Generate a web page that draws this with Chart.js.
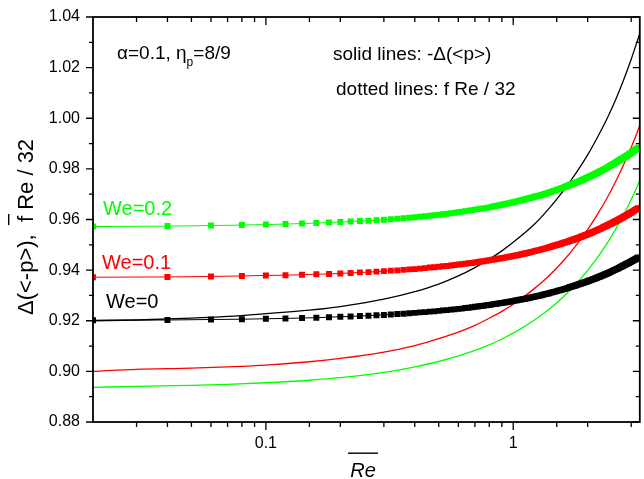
<!DOCTYPE html>
<html>
<head>
<meta charset="utf-8">
<script src="https://cdn.jsdelivr.net/npm/chart.js@4.4.1/dist/chart.umd.min.js"></script>
<style>
  html, body { margin: 0; padding: 0; background: #fff; }
  #wrap { width: 644px; height: 479px; position: relative; }
</style>
</head>
<body>
<div id="wrap"><canvas id="chart"></canvas></div>
<script>
// Re values of the marked (dotted) curves, step 0.02
var reDots = [
    0.02, 0.04, 0.06, 0.08, 0.10, 0.12, 0.14, 0.16, 0.18, 0.20,
    0.22, 0.24, 0.26, 0.28, 0.30, 0.32, 0.34, 0.36, 0.38, 0.40,
    0.42, 0.44, 0.46, 0.48, 0.50, 0.52, 0.54, 0.56, 0.58, 0.60,
    0.62, 0.64, 0.66, 0.68, 0.70, 0.72, 0.74, 0.76, 0.78, 0.80,
    0.82, 0.84, 0.86, 0.88, 0.90, 0.92, 0.94, 0.96, 0.98, 1.00,
    1.02, 1.04, 1.06, 1.08, 1.10, 1.12, 1.14, 1.16, 1.18, 1.20,
    1.22, 1.24, 1.26, 1.28, 1.30, 1.32, 1.34, 1.36, 1.38, 1.40,
    1.42, 1.44, 1.46, 1.48, 1.50, 1.52, 1.54, 1.56, 1.58, 1.60,
    1.62, 1.64, 1.66, 1.68, 1.70, 1.72, 1.74, 1.76, 1.78, 1.80,
    1.82, 1.84, 1.86, 1.88, 1.90, 1.92, 1.94, 1.96, 1.98, 2.00,
    2.02, 2.04, 2.06, 2.08, 2.10, 2.12, 2.14, 2.16, 2.18, 2.20,
    2.22, 2.24, 2.26, 2.28, 2.30, 2.32, 2.34, 2.36, 2.38, 2.40,
    2.42, 2.44, 2.46, 2.48, 2.50, 2.52, 2.54, 2.56, 2.58, 2.60,
    2.62, 2.64, 2.66, 2.68, 2.70, 2.72, 2.74, 2.76, 2.78, 2.80,
    2.82, 2.84, 2.86, 2.88, 2.90, 2.92, 2.94, 2.96, 2.98, 3.00,
    3.02, 3.04, 3.06, 3.08, 3.10, 3.12, 3.14, 3.16, 3.18, 3.20
];

// f Re / 32, We = 0
var dotsWe0 = [
    0.9202, 0.9203, 0.9205, 0.9206, 0.9208, 0.9209, 0.9211, 0.9212, 0.9214, 0.9216,
    0.9217, 0.9219, 0.9220, 0.9222, 0.9223, 0.9225, 0.9227, 0.9228, 0.9230, 0.9231,
    0.9233, 0.9234, 0.9236, 0.9237, 0.9239, 0.9241, 0.9242, 0.9244, 0.9245, 0.9247,
    0.9248, 0.9250, 0.9251, 0.9253, 0.9255, 0.9256, 0.9258, 0.9259, 0.9261, 0.9262,
    0.9264, 0.9266, 0.9267, 0.9269, 0.9270, 0.9272, 0.9273, 0.9275, 0.9276, 0.9278,
    0.9280, 0.9281, 0.9283, 0.9284, 0.9286, 0.9287, 0.9289, 0.9290, 0.9292, 0.9294,
    0.9295, 0.9297, 0.9298, 0.9300, 0.9301, 0.9303, 0.9305, 0.9306, 0.9308, 0.9309,
    0.9311, 0.9312, 0.9314, 0.9315, 0.9317, 0.9319, 0.9320, 0.9322, 0.9323, 0.9325,
    0.9326, 0.9328, 0.9329, 0.9331, 0.9333, 0.9334, 0.9336, 0.9337, 0.9339, 0.9340,
    0.9342, 0.9344, 0.9345, 0.9347, 0.9348, 0.9350, 0.9351, 0.9353, 0.9354, 0.9356,
    0.9358, 0.9359, 0.9361, 0.9362, 0.9364, 0.9365, 0.9367, 0.9368, 0.9370, 0.9372,
    0.9373, 0.9375, 0.9376, 0.9378, 0.9379, 0.9381, 0.9383, 0.9384, 0.9386, 0.9387,
    0.9389, 0.9390, 0.9392, 0.9393, 0.9395, 0.9397, 0.9398, 0.9400, 0.9401, 0.9403,
    0.9404, 0.9406, 0.9407, 0.9409, 0.9411, 0.9412, 0.9414, 0.9415, 0.9417, 0.9418,
    0.9420, 0.9422, 0.9423, 0.9425, 0.9426, 0.9428, 0.9429, 0.9431, 0.9432, 0.9434,
    0.9436, 0.9437, 0.9439, 0.9440, 0.9442, 0.9443, 0.9445, 0.9446, 0.9448, 0.9450
];

// f Re / 32, We = 0.1
var dotsWe01 = [
    0.9372, 0.9373, 0.9375, 0.9377, 0.9379, 0.9380, 0.9382, 0.9384, 0.9385, 0.9387,
    0.9389, 0.9391, 0.9392, 0.9394, 0.9396, 0.9398, 0.9399, 0.9401, 0.9403, 0.9404,
    0.9406, 0.9408, 0.9410, 0.9411, 0.9413, 0.9415, 0.9416, 0.9418, 0.9420, 0.9422,
    0.9423, 0.9425, 0.9427, 0.9428, 0.9430, 0.9432, 0.9434, 0.9435, 0.9437, 0.9439,
    0.9441, 0.9442, 0.9444, 0.9446, 0.9447, 0.9449, 0.9451, 0.9453, 0.9454, 0.9456,
    0.9458, 0.9459, 0.9461, 0.9463, 0.9465, 0.9466, 0.9468, 0.9470, 0.9471, 0.9473,
    0.9475, 0.9477, 0.9478, 0.9480, 0.9482, 0.9484, 0.9485, 0.9487, 0.9489, 0.9490,
    0.9492, 0.9494, 0.9496, 0.9497, 0.9499, 0.9501, 0.9502, 0.9504, 0.9506, 0.9508,
    0.9509, 0.9511, 0.9513, 0.9514, 0.9516, 0.9518, 0.9520, 0.9521, 0.9523, 0.9525,
    0.9527, 0.9528, 0.9530, 0.9532, 0.9533, 0.9535, 0.9537, 0.9539, 0.9540, 0.9542,
    0.9544, 0.9545, 0.9547, 0.9549, 0.9551, 0.9552, 0.9554, 0.9556, 0.9557, 0.9559,
    0.9561, 0.9563, 0.9564, 0.9566, 0.9568, 0.9570, 0.9571, 0.9573, 0.9575, 0.9576,
    0.9578, 0.9580, 0.9582, 0.9583, 0.9585, 0.9587, 0.9588, 0.9590, 0.9592, 0.9594,
    0.9595, 0.9597, 0.9599, 0.9600, 0.9602, 0.9604, 0.9606, 0.9607, 0.9609, 0.9611,
    0.9613, 0.9614, 0.9616, 0.9618, 0.9619, 0.9621, 0.9623, 0.9625, 0.9626, 0.9628,
    0.9630, 0.9631, 0.9633, 0.9635, 0.9637, 0.9638, 0.9640, 0.9642, 0.9643, 0.9645
];

// f Re / 32, We = 0.2
var dotsWe02 = [
    0.9572, 0.9574, 0.9576, 0.9578, 0.9580, 0.9582, 0.9584, 0.9586, 0.9588, 0.9590,
    0.9592, 0.9594, 0.9595, 0.9597, 0.9599, 0.9601, 0.9603, 0.9605, 0.9607, 0.9609,
    0.9611, 0.9613, 0.9615, 0.9617, 0.9619, 0.9621, 0.9623, 0.9625, 0.9627, 0.9629,
    0.9631, 0.9633, 0.9635, 0.9637, 0.9639, 0.9641, 0.9643, 0.9644, 0.9646, 0.9648,
    0.9650, 0.9652, 0.9654, 0.9656, 0.9658, 0.9660, 0.9662, 0.9664, 0.9666, 0.9668,
    0.9670, 0.9672, 0.9674, 0.9676, 0.9678, 0.9680, 0.9682, 0.9684, 0.9686, 0.9688,
    0.9690, 0.9692, 0.9693, 0.9695, 0.9697, 0.9699, 0.9701, 0.9703, 0.9705, 0.9707,
    0.9709, 0.9711, 0.9713, 0.9715, 0.9717, 0.9719, 0.9721, 0.9723, 0.9725, 0.9727,
    0.9729, 0.9731, 0.9733, 0.9735, 0.9737, 0.9739, 0.9741, 0.9742, 0.9744, 0.9746,
    0.9748, 0.9750, 0.9752, 0.9754, 0.9756, 0.9758, 0.9760, 0.9762, 0.9764, 0.9766,
    0.9768, 0.9770, 0.9772, 0.9774, 0.9776, 0.9778, 0.9780, 0.9782, 0.9784, 0.9786,
    0.9788, 0.9790, 0.9791, 0.9793, 0.9795, 0.9797, 0.9799, 0.9801, 0.9803, 0.9805,
    0.9807, 0.9809, 0.9811, 0.9813, 0.9815, 0.9817, 0.9819, 0.9821, 0.9823, 0.9825,
    0.9827, 0.9829, 0.9831, 0.9833, 0.9835, 0.9837, 0.9839, 0.9840, 0.9842, 0.9844,
    0.9846, 0.9848, 0.9850, 0.9852, 0.9854, 0.9856, 0.9858, 0.9860, 0.9862, 0.9864,
    0.9866, 0.9868, 0.9870, 0.9872, 0.9874, 0.9876, 0.9878, 0.9880, 0.9882, 0.9884
];

// Re values of the solid curves
var reSolid = [0.02, 0.03, 0.05, 0.07, 0.1, 0.15, 0.2, 0.3, 0.4, 0.5, 0.6, 0.7, 0.8, 0.9,
    1.0, 1.2, 1.4, 1.6, 1.8, 2.0, 2.2, 2.4, 2.6, 2.8, 3.0, 3.25];

// -Delta(<p>) for each We
var solidWe0 = [0.9200, 0.9203, 0.9210, 0.9217, 0.9228, 0.9242, 0.9256, 0.9285, 0.9315, 0.9345,
    0.9377, 0.9410, 0.9443, 0.9476, 0.9510, 0.9575, 0.9645, 0.9715, 0.9785, 0.9855,
    0.9928, 1.0000, 1.0075, 1.0153, 1.0233, 1.0335];
var solidWe01 = [0.9000, 0.9008, 0.9013, 0.9018, 0.9025, 0.9038, 0.9051, 0.9076, 0.9102, 0.9129,
    0.9155, 0.9182, 0.9210, 0.9237, 0.9265, 0.9322, 0.9379, 0.9438, 0.9499, 0.9560,
    0.9623, 0.9686, 0.9751, 0.9818, 0.9885, 0.9971];
var solidWe02 = [0.8937, 0.8941, 0.8945, 0.8949, 0.8955, 0.8965, 0.8975, 0.8996, 0.9018, 0.9039,
    0.9061, 0.9083, 0.9105, 0.9128, 0.9151, 0.9198, 0.9246, 0.9296, 0.9347, 0.9399,
    0.9452, 0.9507, 0.9563, 0.9620, 0.9679, 0.9754];

var yTicks = [0.88, 0.90, 0.92, 0.94, 0.96, 0.98, 1.00, 1.02, 1.04];
var xLabelled = [0.1, 1];

var GREEN = "#00ff00";
var RED = "#ff0000";
var BLACK = "#000000";
var FONT = '"Liberation Sans", Arial, Helvetica, sans-serif';

function pts(xs, ys) {
    return xs.map(function (x, i) { return { x: x, y: ys[i] }; });
}

function dotted(data, color) {
    return {
        data: pts(reDots, data),
        showLine: true,
        borderColor: color,
        borderWidth: 1,
        pointStyle: "rect",
        pointRadius: 4.2,
        pointBorderWidth: 0,
        pointBackgroundColor: color,
    };
}

function solid(data, color) {
    return {
        data: pts(reSolid, data),
        showLine: true,
        borderColor: color,
        borderWidth: 1.3,
        pointRadius: 0,
        cubicInterpolationMode: "monotone",
    };
}

// frame, tick marks and text labels
var decorPlugin = {
    id: "decor",
    afterDatasetsDraw: function (chart) {
        var ctx = chart.ctx;
        var a = chart.chartArea;
        var xs = chart.scales.x;
        var ys = chart.scales.y;
        ctx.save();
        ctx.strokeStyle = BLACK;
        ctx.lineWidth = 1.3;
        ctx.beginPath();
        xs.ticks.forEach(function (t) {
            var px = xs.getPixelForValue(t.value);
            if (px < a.left + 1 || px > a.right - 1) return;
            var lg = Math.log10(t.value);
            var major = Math.abs(lg - Math.round(lg)) < 1e-6;
            var len = major ? 8 : 5;
            ctx.moveTo(px, a.bottom);
            ctx.lineTo(px, a.bottom + len);
            ctx.moveTo(px, a.top);
            ctx.lineTo(px, a.top + len);
        });
        for (var i = 0; i < yTicks.length; i++) {
            var py = ys.getPixelForValue(yTicks[i]);
            ctx.moveTo(a.left - 7, py);
            ctx.lineTo(a.left, py);
            ctx.moveTo(a.right - 7, py);
            ctx.lineTo(a.right, py);
            if (i < yTicks.length - 1) {
                var pm = ys.getPixelForValue((yTicks[i] + yTicks[i + 1]) / 2);
                ctx.moveTo(a.left - 4, pm);
                ctx.lineTo(a.left, pm);
                ctx.moveTo(a.right - 4, pm);
                ctx.lineTo(a.right, pm);
            }
        }
        ctx.stroke();
        ctx.lineWidth = 1.8;
        ctx.strokeRect(a.left, a.top, a.right - a.left, a.bottom - a.top);

        // annotations
        ctx.fillStyle = BLACK;
        ctx.textAlign = "left";
        ctx.textBaseline = "alphabetic";
        ctx.font = "19px " + FONT;
        var tx = 117;
        ctx.fillText("α=0.1, η", tx, 59);
        tx += ctx.measureText("α=0.1, η").width;
        ctx.font = "12px " + FONT;
        ctx.fillText("p", tx, 66);
        tx += ctx.measureText("p").width;
        ctx.font = "19px " + FONT;
        ctx.fillText("=8/9", tx, 59);
        ctx.fillText("solid lines: -Δ(<p>)", 333, 60);
        ctx.fillText("dotted lines: f Re / 32", 336, 95);

        ctx.font = "20px " + FONT;
        ctx.fillStyle = GREEN;
        ctx.fillText("We=0.2", 103, 215);
        ctx.fillStyle = RED;
        ctx.fillText("We=0.1", 102, 269);
        ctx.fillStyle = BLACK;
        ctx.fillText("We=0", 106, 308);

        // x title, italic Re with a bar
        ctx.font = "italic 20px " + FONT;
        ctx.textAlign = "center";
        ctx.fillText("Re", 363, 477);
        ctx.fillRect(348, 452.5, 30, 1.4);

        // y title, rotated
        ctx.translate(33, 315);
        ctx.rotate(-Math.PI / 2);
        ctx.textAlign = "left";
        ctx.font = "22px " + FONT;
        var first = "Δ(<-p>),  ";
        ctx.fillText(first, 0, 0);
        var w1 = ctx.measureText(first).width;
        ctx.fillText("f Re / 32", w1, 0);
        var wf = ctx.measureText("f").width;
        ctx.fillRect(w1 - 3, -25, wf + 5, 1.4);
        ctx.restore();
    },
};

var ctxChart = document.getElementById("chart").getContext("2d");

var config = {
    type: "scatter",
    data: {
        datasets: [
            dotted(dotsWe0, BLACK),
            dotted(dotsWe01, RED),
            dotted(dotsWe02, GREEN),
            solid(solidWe0, BLACK),
            solid(solidWe01, RED),
            solid(solidWe02, GREEN),
        ],
    },
    options: {
        responsive: true,
        maintainAspectRatio: false,
        animation: false,
        layout: { padding: { left: 0, right: 3, top: 17, bottom: 0 } },
        plugins: {
            legend: { display: false },
            tooltip: { enabled: false },
        },
        scales: {
            x: {
                type: "logarithmic",
                min: 0.02,
                max: 3.25,
                // ticks are drawn by the plugin; tickLength only sets label distance
                grid: { display: false, drawTicks: true, tickLength: 12 },
                border: { display: false },
                afterFit: function (s) { s.height = 57; },
                ticks: {
                    autoSkip: false,
                    maxRotation: 0,
                    padding: 0,
                    color: BLACK,
                    font: { family: FONT, size: 16 },
                    callback: function (v) {
                        for (var i = 0; i < xLabelled.length; i++) {
                            if (Math.abs(v - xLabelled[i]) < 1e-9) return String(xLabelled[i]);
                        }
                        return "";
                    },
                },
            },
            y: {
                min: 0.88,
                max: 1.04,
                grid: { display: false, drawTicks: true, tickLength: 13 },
                border: { display: false },
                afterFit: function (s) { s.width = 93; },
                afterBuildTicks: function (s) {
                    s.ticks = yTicks.map(function (v) { return { value: v }; });
                },
                ticks: {
                    padding: 0,
                    color: BLACK,
                    font: { family: FONT, size: 16 },
                    callback: function (v) { return Number(v).toFixed(2); },
                },
            },
        },
    },
    plugins: [decorPlugin],
};

var chart = new Chart(ctxChart, config);
</script>
</body>
</html>
